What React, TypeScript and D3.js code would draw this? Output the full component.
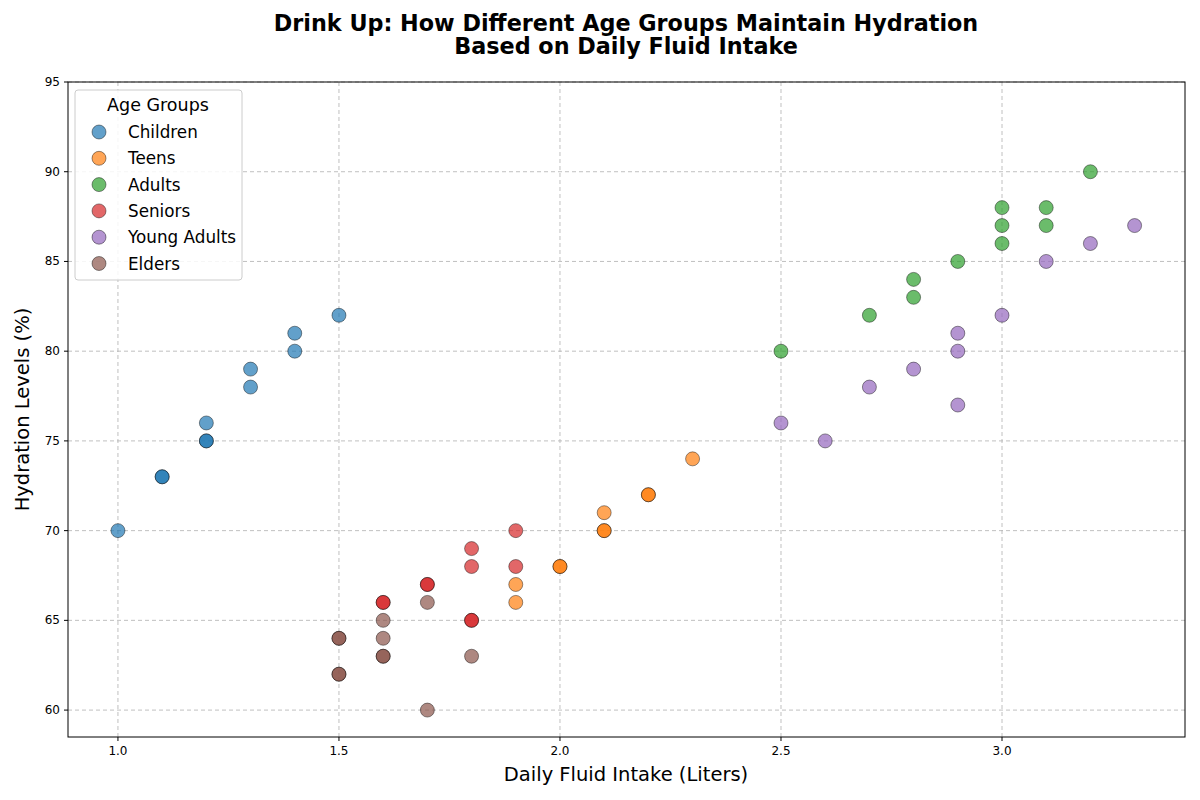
import * as d3 from 'd3'

const groups = ['Children', 'Teens', 'Adults', 'Seniors', 'Young Adults', 'Elders']
const colors = ['#1f77b4', '#ff7f0e', '#2ca02c', '#d62728', '#9467bd', '#8c564b']

const intake: number[][] = [
  [1.0, 1.1, 1.1, 1.2, 1.2, 1.2, 1.3, 1.3, 1.4, 1.4, 1.5],
  [1.9, 1.9, 2.0, 2.0, 2.1, 2.1, 2.1, 2.2, 2.2, 2.3],
  [2.5, 2.7, 2.8, 2.8, 2.9, 3.0, 3.0, 3.0, 3.1, 3.1, 3.2],
  [1.6, 1.6, 1.7, 1.7, 1.8, 1.8, 1.8, 1.8, 1.9, 1.9],
  [2.5, 2.6, 2.7, 2.8, 2.9, 2.9, 2.9, 3.0, 3.1, 3.2, 3.3],
  [1.5, 1.5, 1.5, 1.5, 1.6, 1.6, 1.6, 1.6, 1.7, 1.7, 1.8],
]
const hydration: number[][] = [
  [70, 73, 73, 75, 75, 76, 78, 79, 80, 81, 82],
  [66, 67, 68, 68, 70, 70, 71, 72, 72, 74],
  [80, 82, 83, 84, 85, 86, 87, 88, 87, 88, 90],
  [66, 66, 67, 67, 65, 65, 68, 69, 68, 70],
  [76, 75, 78, 79, 77, 80, 81, 82, 85, 86, 87],
  [62, 62, 64, 64, 63, 63, 64, 65, 60, 66, 63],
]
const xTicks = [1.0, 1.5, 2.0, 2.5, 3.0]
const yTicks = [60, 65, 70, 75, 80, 85, 90, 95]

export default function App() {
  const L = 68, R = 1185, T = 82, B = 737
  const x = d3.scaleLinear().domain([0.887, 3.414]).range([L, R])
  const y = d3.scaleLinear().domain([58.5, 95]).range([B, T])
  const font = 'DejaVu Sans, sans-serif'
  return (
    <svg width={1200} height={800} style={{ position: 'absolute', left: 0, top: 0 }} fontFamily={font}>
      <rect width={1200} height={800} fill="white" />
      <text x={626} y={31} textAnchor="middle" fontSize={22.3} fontWeight="bold">Drink Up: How Different Age Groups Maintain Hydration</text>
      <text x={626} y={54} textAnchor="middle" fontSize={22.3} fontWeight="bold">Based on Daily Fluid Intake</text>
      {xTicks.map(t => (
        <g key={'x' + t}>
          <line x1={x(t)} x2={x(t)} y1={T} y2={B} stroke="#b0b0b0" strokeDasharray="4,3" strokeWidth={0.8} />
          <line x1={x(t)} x2={x(t)} y1={B} y2={B + 4} stroke="black" />
          <text x={x(t)} y={B + 18} textAnchor="middle" fontSize={12}>{t.toFixed(1)}</text>
        </g>
      ))}
      {yTicks.map(t => (
        <g key={'y' + t}>
          <line x1={L} x2={R} y1={y(t)} y2={y(t)} stroke="#b0b0b0" strokeDasharray="4,3" strokeWidth={0.8} />
          <line x1={L - 4} x2={L} y1={y(t)} y2={y(t)} stroke="black" />
          <text x={L - 8} y={y(t) + 4} textAnchor="end" fontSize={12}>{t}</text>
        </g>
      ))}
      {groups.map((g, gi) => intake[gi].map((v, i) => (
        <circle key={g + i} cx={x(v)} cy={y(hydration[gi][i])} r={7} fill={colors[gi]} fillOpacity={0.7} stroke="black" strokeOpacity={0.7} strokeWidth={0.6} />
      )))}
      <rect x={L} y={T} width={R - L} height={B - T} fill="none" stroke="black" />
      <text x={626} y={781} textAnchor="middle" fontSize={19.5}>Daily Fluid Intake (Liters)</text>
      <text transform={`translate(29,${(T + B) / 2}) rotate(-90)`} textAnchor="middle" fontSize={19.5}>Hydration Levels (%)</text>
      <rect x={75} y={90} width={167} height={190} rx={3} fill="white" fillOpacity={0.85} stroke="#cccccc" />
      <text x={158} y={111} textAnchor="middle" fontSize={17.5}>Age Groups</text>
      {groups.map((g, gi) => (
        <g key={'l' + g}>
          <circle cx={99} cy={132 + gi * 26.3} r={7} fill={colors[gi]} fillOpacity={0.7} stroke="black" strokeOpacity={0.7} strokeWidth={0.6} />
          <text x={128} y={138 + gi * 26.3} fontSize={16.8}>{g}</text>
        </g>
      ))}
    </svg>
  )
}
